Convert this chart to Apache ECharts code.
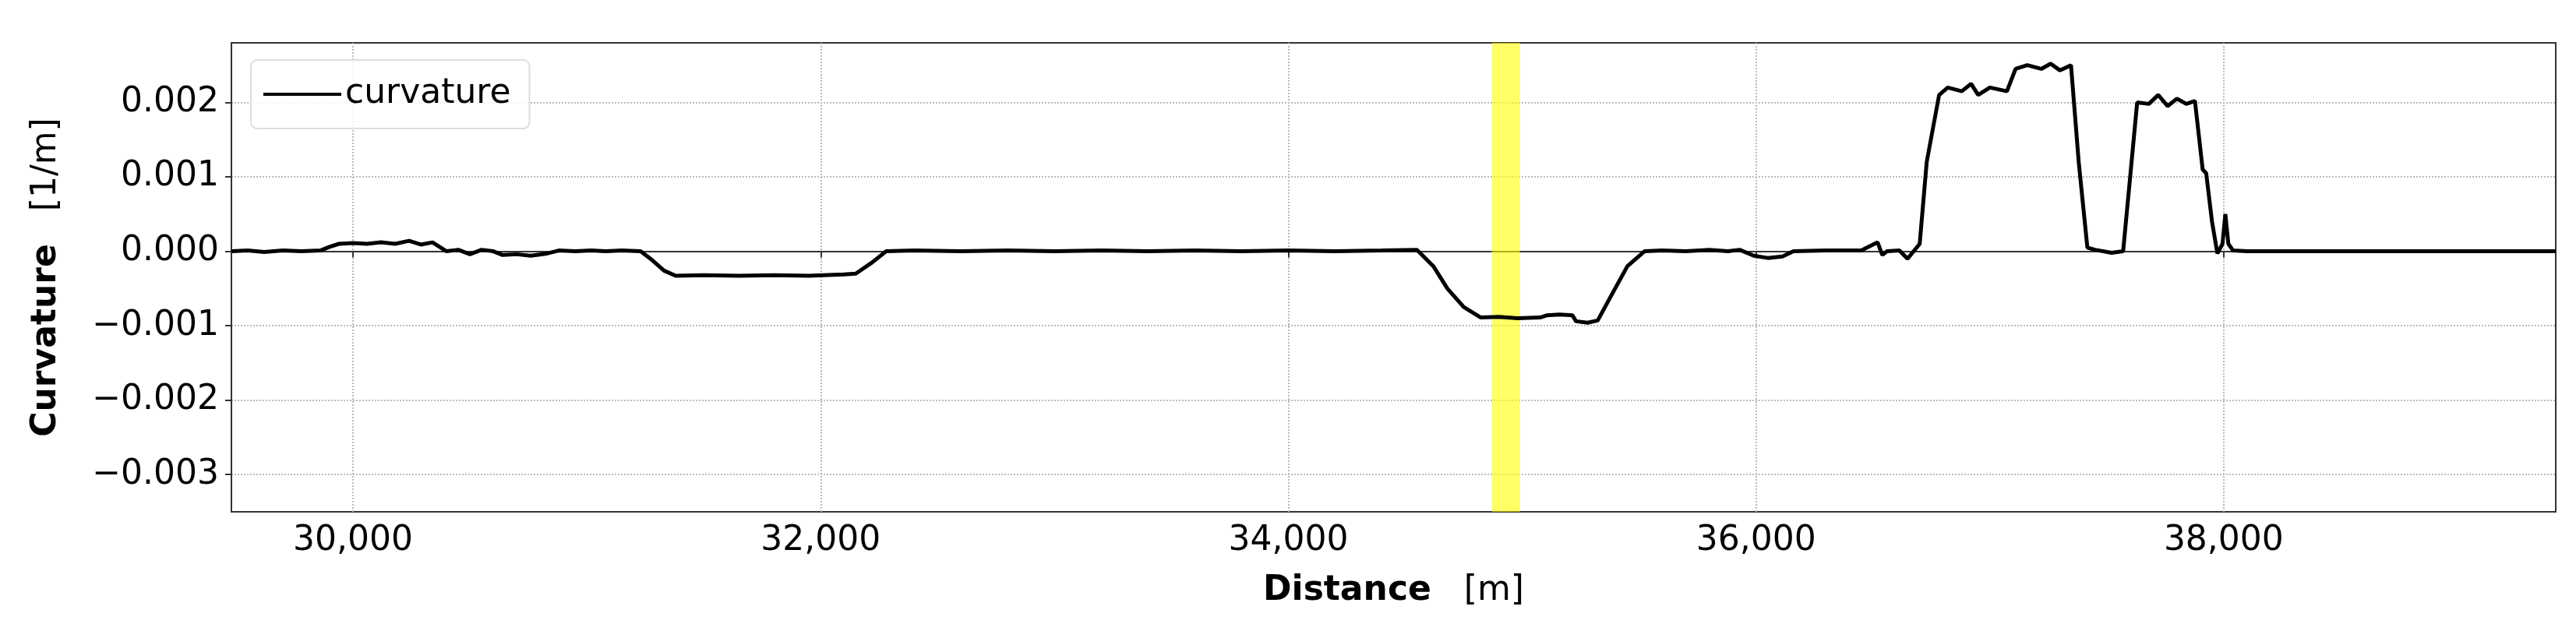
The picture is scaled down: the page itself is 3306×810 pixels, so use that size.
<!DOCTYPE html>
<html>
<head>
<meta charset="utf-8">
<script src="https://cdn.jsdelivr.net/npm/echarts@6/dist/echarts.min.js"></script>
<style>html,body{margin:0;padding:0;background:#fff}#main{width:3306px;height:810px}</style>
</head>
<body>
<div id="main"></div>
<script>
// distance [m] and curvature [1/m]
var distance = [29480,29550,29620,29700,29780,29860,29900,29940,30000,30060,30120,30180,30240,30290,30340,30370,30400,30450,30500,30550,30600,30640,30700,30760,30830,30880,30950,31020,31080,31150,31230,31280,31330,31380,31500,31650,31800,31950,32100,32150,32220,32280,32400,32600,32800,33000,33200,33400,33600,33800,34000,34200,34400,34550,34620,34680,34750,34823,34900,34980,35077,35107,35160,35215,35230,35280,35323,35380,35450,35523,35600,35700,35800,35880,35930,35990,36050,36113,36160,36300,36450,36520,36540,36560,36613,36648,36700,36730,36783,36820,36880,36920,36950,37000,37073,37110,37160,37220,37260,37300,37347,37380,37417,37450,37520,37570,37630,37680,37720,37760,37800,37840,37877,37910,37925,37950,37973,37995,38007,38020,38040,38100,38200,38500,39000,39420];
var curvature = [0,0.00001,-0.00001,0.00001,0,0.00001,0.00006,0.0001,0.00011,0.0001,0.00012,0.0001,0.00014,0.00009,0.00012,0.00006,0,0.00002,-0.00004,0.00002,0,-0.00005,-0.00004,-0.00006,-0.00003,0.00001,0,0.00001,0,0.00001,0,-0.00012,-0.00026,-0.00033,-0.00032,-0.00033,-0.00032,-0.00033,-0.00031,-0.0003,-0.00015,0,0.00001,0,0.00001,0,0.00001,0,0.00001,0,0.00001,0,0.00001,0.00002,-0.0002,-0.0005,-0.00075,-0.00089,-0.00088,-0.0009,-0.00089,-0.00086,-0.00085,-0.00086,-0.00094,-0.00096,-0.00093,-0.0006,-0.0002,0,0.00001,0,0.00002,0,0.00002,-0.00006,-0.00009,-0.00007,0,0.00001,0.00001,0.00012,-0.00005,0,0.00001,-0.0001,0.0001,0.0012,0.0021,0.0022,0.00215,0.00225,0.0021,0.0022,0.00215,0.00245,0.0025,0.00245,0.00252,0.00243,0.0025,0.0012,0.00005,0.00002,-0.00002,0,0.002,0.00198,0.0021,0.00195,0.00205,0.00198,0.00202,0.0011,0.00105,0.0004,-0.00003,0.0001,0.0005,0.0001,0.00001,0,0,0,0,0];
var xTicks = [30000,32000,34000,36000,38000];
var yTicks = [-0.003,-0.002,-0.001,0,0.001,0.002];
var highlight = [34870,34990];

var points = distance.map(function (d, i) { return [d, curvature[i]]; });
var font = 'DejaVu Sans';
var chart = echarts.init(document.getElementById('main'));
chart.setOption({
  animation: false,
  grid: {left: 297, right: 26, top: 55, bottom: 153, show: true, borderColor: '#333', borderWidth: 2},
  legend: {
    data: ['curvature'], left: 322, top: 77, padding: [22, 24, 22, 16],
    itemWidth: 100, itemHeight: 4, itemGap: 30,
    backgroundColor: 'rgba(255,255,255,0.85)', borderColor: '#ddd', borderWidth: 2, borderRadius: 8,
    textStyle: {fontFamily: font, fontSize: 44, color: '#000'},
    icon: 'rect'
  },
  xAxis: {
    type: 'value', min: 29480, max: 39420,
    name: '{b|Distance}   [m]', nameLocation: 'middle', nameGap: 80,
    nameTextStyle: {fontFamily: font, fontSize: 44, color: '#000', rich: {b: {fontFamily: font, fontSize: 44, fontWeight: 'bold'}}},
    axisLine: {lineStyle: {color: '#333', width: 2}},
    axisTick: {show: true, customValues: xTicks, length: 8, lineStyle: {color: '#333', width: 2}},
    axisLabel: {customValues: xTicks, fontFamily: font, fontSize: 44, color: '#000', margin: 16,
      formatter: function (v) { return v.toLocaleString('en-US'); }},
    splitLine: {show: true, lineStyle: {color: '#bbb', type: 'dotted', width: 2}}
  },
  yAxis: {
    type: 'value', min: -0.0035, max: 0.0028,
    name: '{b|Curvature}   [1/m]', nameLocation: 'middle', nameGap: 215,
    nameTextStyle: {fontFamily: font, fontSize: 44, color: '#000', rich: {b: {fontFamily: font, fontSize: 44, fontWeight: 'bold'}}},
    axisLine: {show: true, lineStyle: {color: '#333', width: 2}},
    axisTick: {show: true, customValues: yTicks, length: 8, lineStyle: {color: '#333', width: 2}},
    axisLabel: {customValues: yTicks, fontFamily: font, fontSize: 44, color: '#000', margin: 16,
      formatter: function (v) { return (v < 0 ? '\u2212' : '') + Math.abs(v).toFixed(3); }},
    splitLine: {show: true, lineStyle: {color: '#bbb', type: 'dotted', width: 2}}
  },
  series: [{
    name: 'curvature', type: 'line', data: points, showSymbol: false,
    lineStyle: {color: '#000', width: 5}, itemStyle: {color: '#000'},
    markArea: {silent: true, itemStyle: {color: 'rgba(255,255,0,0.6)'}, data: [[{xAxis: highlight[0]}, {xAxis: highlight[1]}]]}
  }]
});
</script>
</body>
</html>
